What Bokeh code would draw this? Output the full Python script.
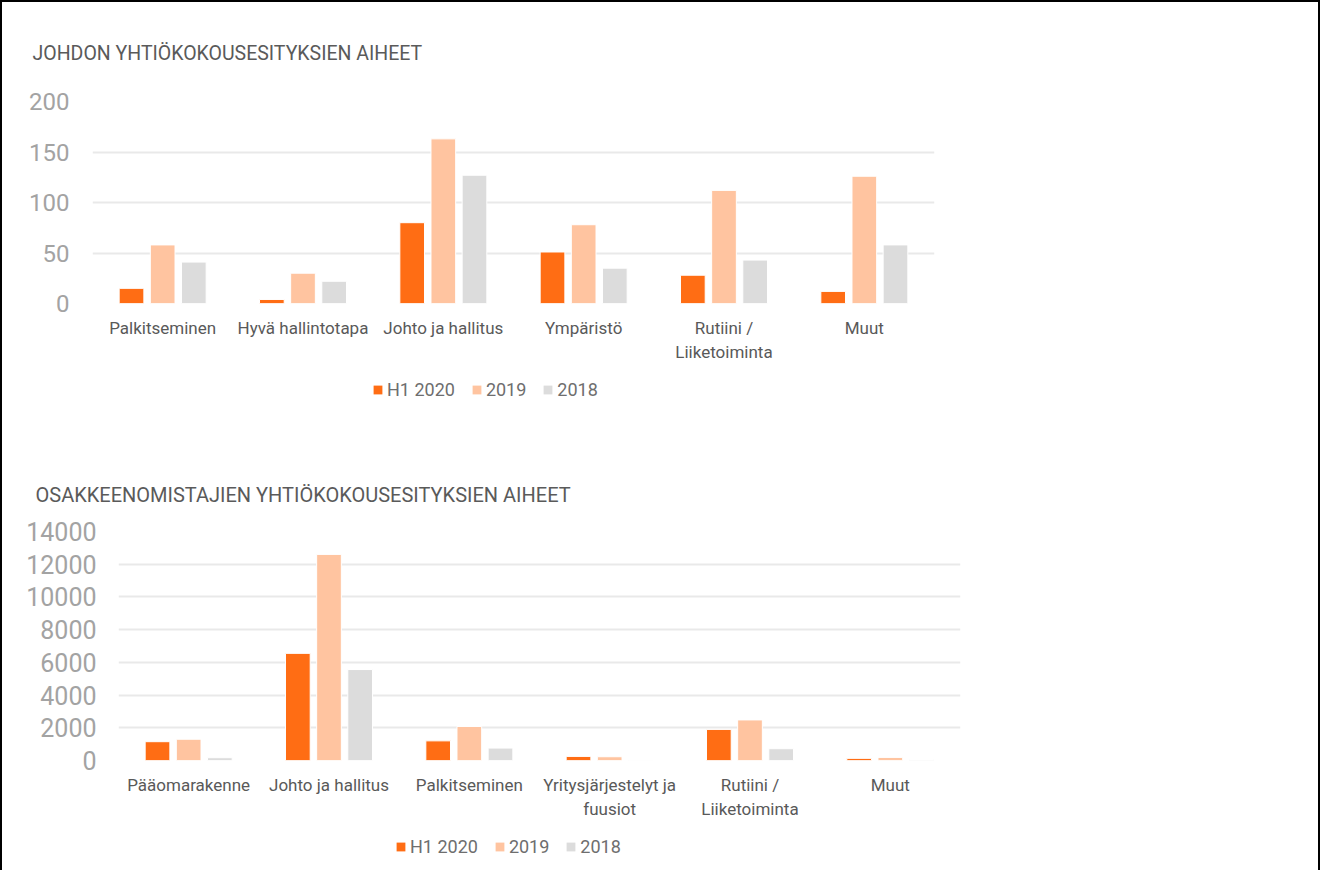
import numpy as np
from bokeh.plotting import figure
from bokeh.models import FactorRange, Range1d, Legend, LegendItem, FixedTicker
from bokeh.transform import dodge
from bokeh.layouts import column, row
from bokeh.embed import file_html
from bokeh.resources import INLINE

# ---- data ----
series_names = ["H1 2020", "2019", "2018"]
series_colors = ["#ff6d14", "#ffc4a0", "#dcdcdc"]

title1 = "JOHDON YHTIÖKOKOUSESITYKSIEN AIHEET"
cats1 = ["Palkitseminen", "Hyvä hallintotapa", "Johto ja hallitus", "Ympäristö",
         "Rutiini /\nLiiketoiminta", "Muut"]
h1_2020_a = [15, 4, 80, 51, 28, 12]
y2019_a = [58, 30, 163, 78, 112, 126]
y2018_a = [41, 22, 127, 35, 43, 58]
ticks1 = [0, 50, 100, 150, 200]

title2 = "OSAKKEENOMISTAJIEN YHTIÖKOKOUSESITYKSIEN AIHEET"
cats2 = ["Pääomarakenne", "Johto ja hallitus", "Palkitseminen",
         "Yritysjärjestelyt ja\nfuusiot", "Rutiini /\nLiiketoiminta", "Muut"]
h1_2020_b = [1150, 6550, 1200, 250, 1900, 130]
y2019_b = [1300, 12600, 2080, 230, 2480, 190]
y2018_b = [170, 5560, 760, 20, 720, 60]
ticks2 = [0, 2000, 4000, 6000, 8000, 10000, 12000, 14000]

FONT = "Roboto"
W = 1316


def make_chart(title, cats, series, ticks, height, mb, ytick_size, ystandoff,
               title_size, title_standoff, title_offset):
    p = figure(x_range=FactorRange(*cats, range_padding=0),
               y_range=Range1d(0, ticks[-1]),
               width=W, height=height, output_backend="svg", toolbar_location=None,
               min_border_left=mb[0], min_border_top=mb[1],
               min_border_right=mb[2], min_border_bottom=mb[3], title=title)
    p.outline_line_color = None
    p.title.text_font = FONT
    p.title.text_font_size = f"{title_size}px"
    p.title.text_font_style = "normal"
    p.title.text_color = "#5a5a5a"
    p.title.standoff = title_standoff
    p.title.offset = title_offset

    data = {"cat": cats}
    keys = ["s0", "s1", "s2"]
    for k, vals in zip(keys, series):
        data[k] = vals
    offsets = [-0.222, 0.0, 0.222]
    for k, col, off in zip(keys, series_colors, offsets):
        p.vbar(x=dodge("cat", off, range=p.x_range), top=k, width=0.176, source=data,
               fill_color=col, line_color="white", line_width=1)

    p.xgrid.grid_line_color = None
    p.ygrid.grid_line_color = "#e9e9e9"
    p.ygrid.grid_line_width = 2
    p.yaxis.ticker = FixedTicker(ticks=ticks)
    p.yaxis.axis_line_color = None
    p.yaxis.major_tick_line_color = None
    p.yaxis.minor_tick_line_color = None
    p.yaxis.major_label_text_font = FONT
    p.yaxis.major_label_text_font_size = f"{ytick_size}px"
    p.yaxis.major_label_text_color = "#a3a3a3"
    p.yaxis.major_label_standoff = ystandoff

    p.xaxis.axis_line_color = None
    p.xaxis.major_tick_line_color = None
    p.xaxis.major_label_text_font = FONT
    p.xaxis.major_label_text_font_size = "17px"
    p.xaxis.major_label_text_color = "#595959"
    p.xaxis.major_label_standoff = 8
    return p


def make_legend(height, x0, y0):
    f = figure(width=W, height=height, output_backend="svg", toolbar_location=None,
               x_range=Range1d(0, 1), y_range=Range1d(0, 1),
               x_axis_type=None, y_axis_type=None,
               min_border_left=0, min_border_right=0, min_border_top=0, min_border_bottom=0)
    f.outline_line_color = None
    f.xgrid.visible = False
    f.ygrid.visible = False
    items = []
    for name, col in zip(series_names, series_colors):
        # legend-only renderer: a single undefined (NaN) bar that is never drawn
        r = f.vbar(x=np.array([np.nan]), top=np.array([np.nan]), width=0.1,
                   fill_color=col, line_color=None)
        items.append(LegendItem(label=name, renderers=[r]))
    lg = Legend(items=items, orientation="horizontal", location=(x0, y0),
                border_line_color=None, background_fill_alpha=0,
                label_text_font=FONT, label_text_font_size="18px",
                label_text_color="#6e6e6e", glyph_width=11, glyph_height=11,
                label_standoff=4, spacing=16, padding=0, margin=0)
    f.add_layout(lg, "center")
    return f


p1 = make_chart(title1, cats1, [h1_2020_a, y2019_a, y2018_a], ticks1,
                height=366, mb=(90, 98, W - 90 - 842, 65), ytick_size=24, ystandoff=17,
                title_size=19.5, title_standoff=74, title_offset=-60)
leg1 = make_legend(42, 370, 10)
p2 = make_chart(title2, cats2, [h1_2020_b, y2019_b, y2018_b], ticks2,
                height=412, mb=(116, 121, W - 116 - 842, 62), ytick_size=25, ystandoff=16,
                title_size=20, title_standoff=50, title_offset=-83)
leg2 = make_legend(48, 393, 13)

layout = column(row(p1), row(leg1), row(p2), row(leg2), spacing=0,
                styles={"border-top": "2px solid black", "border-left": "2px solid black",
                        "border-right": "2px solid black"})

open("out.html", "w").write(file_html(layout, INLINE))
